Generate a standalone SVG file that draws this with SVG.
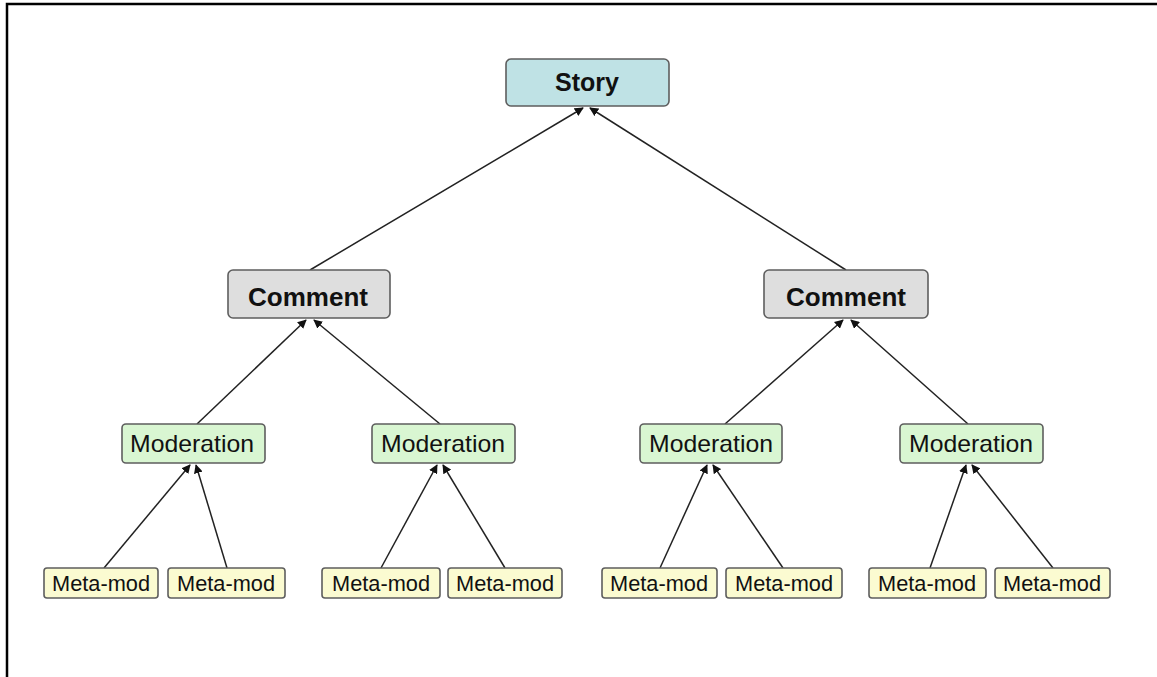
<svg xmlns="http://www.w3.org/2000/svg" width="1157" height="677" viewBox="0 0 1157 677">
<defs>
<marker id="ah" viewBox="0 0 10 10" refX="9" refY="5" markerWidth="9" markerHeight="9" markerUnits="userSpaceOnUse" orient="auto">
<path d="M0,0 L10,5 L0,10 z" fill="#111"/>
</marker>
</defs>
<style>
.box{stroke:#5e5e5e;stroke-width:1.6}
.story{fill:#bfe2e5}
.comment{fill:#dedede}
.mod{fill:#d9f6d2}
.meta{fill:#fbfbd1}
.t{font-family:"Liberation Sans",Arial,sans-serif;fill:#111;text-anchor:middle}
.tb{font-weight:bold;font-size:26px}
.tm{font-size:24px}
.tmm{font-size:22px}
.c{stroke:#222;stroke-width:1.5;fill:none;marker-end:url(#ah)}
</style>
<rect width="1157" height="677" fill="#fff"/>
<g id="frame" fill="none" stroke="#000" stroke-width="2.5">
<path d="M7,677 V4 H1157"/>
</g>
<g id="connectors">
<line class="c" x1="310" y1="270" x2="583" y2="108"/>
<line class="c" x1="846" y1="270" x2="590" y2="108"/>
<line class="c" x1="197" y1="424" x2="306" y2="320"/>
<line class="c" x1="440" y1="424" x2="314" y2="320"/>
<line class="c" x1="725" y1="424" x2="843" y2="320"/>
<line class="c" x1="968" y1="424" x2="851" y2="320"/>
<line class="c" x1="104" y1="568" x2="190" y2="465"/>
<line class="c" x1="227" y1="568" x2="196" y2="465"/>
<line class="c" x1="381" y1="568" x2="437" y2="465"/>
<line class="c" x1="505" y1="568" x2="443" y2="465"/>
<line class="c" x1="660" y1="568" x2="707" y2="465"/>
<line class="c" x1="783" y1="568" x2="713" y2="465"/>
<line class="c" x1="930" y1="568" x2="966" y2="465"/>
<line class="c" x1="1053" y1="568" x2="972" y2="465"/>
</g>
<g id="story"><rect class="box story" x="506" y="59" width="163" height="47" rx="5"/><text class="t tb" x="587" y="91" textLength="64" lengthAdjust="spacingAndGlyphs">Story</text></g>
<g id="comment1"><rect class="box comment" x="228" y="270" width="162" height="48" rx="5"/><text class="t tb" x="308" y="306" textLength="120" lengthAdjust="spacingAndGlyphs">Comment</text></g>
<g id="comment2"><rect class="box comment" x="764" y="270" width="164" height="48" rx="5"/><text class="t tb" x="846" y="306" textLength="120" lengthAdjust="spacingAndGlyphs">Comment</text></g>
<g id="mod1"><rect class="box mod" x="122" y="424" width="143" height="39" rx="4"/><text class="t tm" x="192" y="452" textLength="124" lengthAdjust="spacingAndGlyphs">Moderation</text></g>
<g id="mod2"><rect class="box mod" x="372" y="424" width="143" height="39" rx="4"/><text class="t tm" x="443" y="452" textLength="124" lengthAdjust="spacingAndGlyphs">Moderation</text></g>
<g id="mod3"><rect class="box mod" x="640" y="424" width="142" height="39" rx="4"/><text class="t tm" x="711" y="452" textLength="124" lengthAdjust="spacingAndGlyphs">Moderation</text></g>
<g id="mod4"><rect class="box mod" x="900" y="424" width="143" height="39" rx="4"/><text class="t tm" x="971" y="452" textLength="124" lengthAdjust="spacingAndGlyphs">Moderation</text></g>
<g id="meta1"><rect class="box meta" x="44" y="568" width="114" height="30" rx="3"/><text class="t tmm" x="101" y="591" textLength="98" lengthAdjust="spacingAndGlyphs">Meta-mod</text></g>
<g id="meta2"><rect class="box meta" x="168" y="568" width="117" height="30" rx="3"/><text class="t tmm" x="226" y="591" textLength="98" lengthAdjust="spacingAndGlyphs">Meta-mod</text></g>
<g id="meta3"><rect class="box meta" x="322" y="568" width="118" height="30" rx="3"/><text class="t tmm" x="381" y="591" textLength="98" lengthAdjust="spacingAndGlyphs">Meta-mod</text></g>
<g id="meta4"><rect class="box meta" x="448" y="568" width="114" height="30" rx="3"/><text class="t tmm" x="505" y="591" textLength="98" lengthAdjust="spacingAndGlyphs">Meta-mod</text></g>
<g id="meta5"><rect class="box meta" x="602" y="568" width="115" height="30" rx="3"/><text class="t tmm" x="659" y="591" textLength="98" lengthAdjust="spacingAndGlyphs">Meta-mod</text></g>
<g id="meta6"><rect class="box meta" x="726" y="568" width="116" height="30" rx="3"/><text class="t tmm" x="784" y="591" textLength="98" lengthAdjust="spacingAndGlyphs">Meta-mod</text></g>
<g id="meta7"><rect class="box meta" x="869" y="568" width="117" height="30" rx="3"/><text class="t tmm" x="927" y="591" textLength="98" lengthAdjust="spacingAndGlyphs">Meta-mod</text></g>
<g id="meta8"><rect class="box meta" x="995" y="568" width="115" height="30" rx="3"/><text class="t tmm" x="1052" y="591" textLength="98" lengthAdjust="spacingAndGlyphs">Meta-mod</text></g>
</svg>
